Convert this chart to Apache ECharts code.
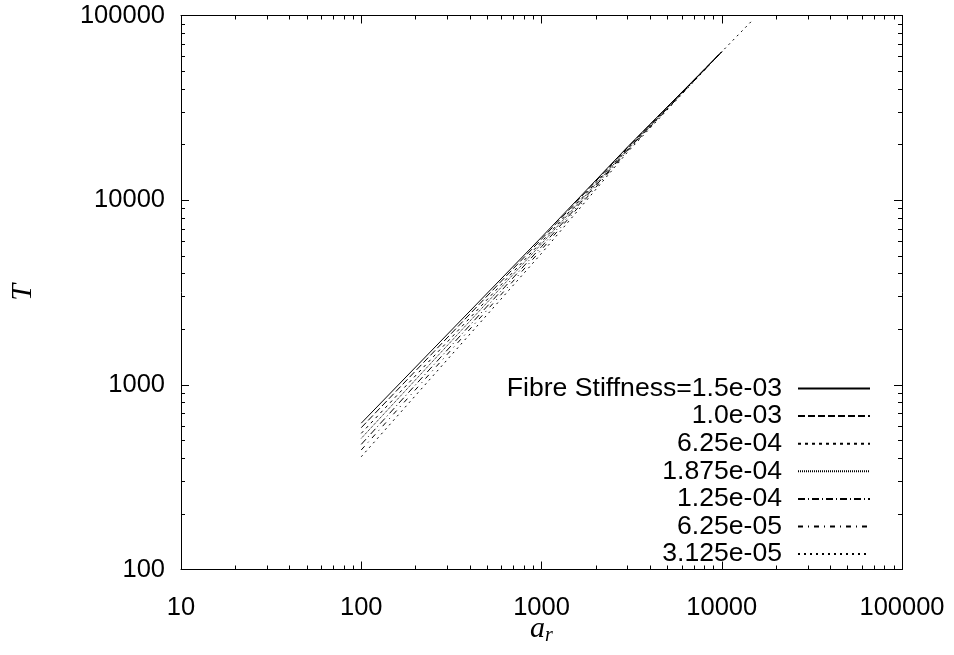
<!DOCTYPE html>
<html>
<head>
<meta charset="utf-8">
<script src="https://cdn.jsdelivr.net/npm/echarts@6/dist/echarts.min.js"></script>
<style>
  html, body { margin: 0; padding: 0; background: #fff; }
  #chart { width: 954px; height: 655px; }
</style>
</head>
<body>
<div id="chart"></div>
<script>
// a_r sample points
const aR = [100, 1000, 3000, 10000];
const aRLong = [100, 1000, 3000, 10000, 15000];

const names = ['Fibre Stiffness=1.5e-03', '1.0e-03', '6.25e-04', '1.875e-04', '1.25e-04', '6.25e-05', '3.125e-05'];

const t1 = [620, 6300, 19400, 63600];
const t2 = [586, 6150, 19300, 63600];
const t3 = [546, 5950, 19100, 63600];
const t4 = [513, 5800, 18900, 63600];
const t5 = [476, 5600, 18700, 63600];
const t6 = [444, 5400, 18500, 63600];
const t7 = [408, 5150, 18200, 63600, 95500];

const seriesVals = [t1, t2, t3, t4, t5, t6, t7];
const dashes = ['solid', [7, 3], [3, 4], [1, 1], [7, 3, 1, 3], [5, 5, 1, 5], [2, 4]];

const font = 'Liberation Sans, Arial, sans-serif';

const chart = echarts.init(document.getElementById('chart'));

const baseAxis = {
    type: 'log',
    logBase: 10,
    axisLine: { show: true, onZero: false, lineStyle: { color: '#000', width: 1 } },
    axisTick: { show: true, inside: true, length: 8, lineStyle: { color: '#000' } },
    minorTick: { show: true, splitNumber: 9, length: 4, lineStyle: { color: '#000' } },
    splitLine: { show: false },
    minorSplitLine: { show: false }
};

const plain = v => String(Math.round(v));

const options = {
    animation: false,
    backgroundColor: '#fff',
    grid: { left: 181, right: 52, top: 15.5, bottom: 85.5, show: false, containLabel: false, outerBoundsMode: 'none' },
    legend: {
        orient: 'vertical',
        right: 83,
        top: 375,
        padding: 0,
        align: 'right',
        itemWidth: 72,
        itemHeight: 14,
        itemGap: 0.6,
        data: names,
        itemStyle: { opacity: 0 },
        textStyle: {
            fontFamily: font,
            fontSize: 26.6,
            color: '#000',
            padding: [0, 11, 0, 0]
        }
    },
    xAxis: [
        Object.assign({}, baseAxis, {
            min: 10, max: 100000,
            position: 'bottom',
            axisLabel: { fontFamily: font, fontSize: 25.5, color: '#000', margin: 25, formatter: plain },
            name: '{a|a}{r|r}',
            nameLocation: 'middle',
            nameGap: 44,
            nameMoveOverlap: false,
            nameTextStyle: {
                rich: {
                    a: { fontFamily: 'Liberation Serif, serif', fontStyle: 'italic', fontSize: 30, color: '#000' },
                    r: { fontFamily: 'Liberation Serif, serif', fontStyle: 'italic', fontSize: 20, color: '#000', verticalAlign: 'bottom', padding: [12, 0, 0, 0] }
                }
            }
        }),
        Object.assign({}, baseAxis, {
            min: 10, max: 100000,
            position: 'top',
            axisLabel: { show: false }
        })
    ],
    yAxis: [
        Object.assign({}, baseAxis, {
            min: 100, max: 100000,
            position: 'left',
            axisLabel: { fontFamily: font, fontSize: 25.5, color: '#000', margin: 16, formatter: plain },
            name: 'T',
            nameLocation: 'middle',
            nameRotate: 90,
            nameGap: 143,
            nameMoveOverlap: false,
            nameTextStyle: { fontFamily: 'Liberation Serif, serif', fontStyle: 'italic', fontSize: 30, color: '#000' }
        }),
        Object.assign({}, baseAxis, {
            min: 100, max: 100000,
            position: 'right',
            axisLabel: { show: false }
        })
    ],
    series: seriesVals.map((vals, i) => {
        const xs = vals.length === aRLong.length ? aRLong : aR;
        return {
            name: names[i],
            type: 'line',
            symbol: 'none',
            data: vals.map((v, j) => [xs[j], v]),
            lineStyle: { color: '#000', width: 1, type: dashes[i] },
            itemStyle: { color: '#000' }
        };
    })
};

chart.setOption(options, { notMerge: true });
</script>
</body>
</html>
